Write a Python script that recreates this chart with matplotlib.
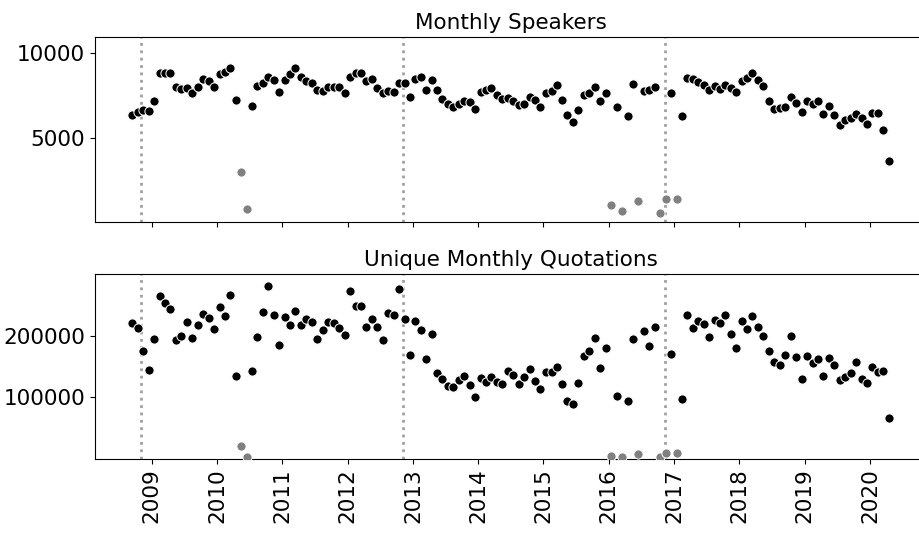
import matplotlib
matplotlib.use("Agg")
import matplotlib.pyplot as plt
import matplotlib.dates as mdates
import pandas as pd
import numpy as np

# Monthly data, Sep 2008 .. Apr 2020 (140 months)
start_month = "2008-09"
n_months = 140

speakers = [
    6330, 6500, 6640, 6560, 7170, 8850, 8850, 8820, 7990, 7890, 7930, 7630,
    7990, 8500, 8380, 8020, 8760, 8870, 9150, 7230, 2970, 790, 6860, 8080,
    8240, 8610, 8400, 7690, 8440, 8760, 9130, 8610, 8360, 8260, 7810, 7770,
    8000, 8000, 8000, 7670, 8600, 8850, 8850, 8380, 8460, 7960, 7650, 7770,
    7730, 8220, 8220, 7430, 8460, 8610, 7830, 8440, 7810, 7280, 7000, 6840,
    7000, 7170, 7120, 6680, 7690, 7830, 7940, 7530, 7280, 7350, 7170, 6940,
    6980, 7430, 7250, 6820, 7630, 7780, 8140, 7250, 6350, 5910, 6640, 7510,
    7630, 7990, 7170, 7650, 1010, 6800, 640, 6270, 8180, 1230, 7780, 7810,
    8000, 560, 1370, 7630, 1370, 6270, 8550, 8500, 8300, 8140, 7830, 8080,
    7890, 8120, 7960, 7730, 8360, 8520, 8830, 8440, 8050, 7190, 6680, 6760,
    6800, 7410, 7070, 6520, 7190, 7010, 7160, 6400, 6900, 6350, 5740, 6050,
    6170, 6420, 6190, 5830, 6480, 6460, 5470, 3600,
]

quotations = [
    220800, 212600, 174400, 144300, 195100, 264600, 254100, 243800, 193000, 199000, 222000, 196200,
    218000, 236100, 229000, 210500, 247500, 232800, 266200, 133400, 19200, 1600, 141600, 198400,
    239300, 282000, 234400, 185200, 230700, 217500, 240000, 217500, 227900, 222500, 194600, 209300,
    222500, 220300, 213100, 201600, 273800, 248200, 248700, 213800, 227900, 214800, 193000, 237700,
    233900, 277000, 227900, 167900, 224600, 208900, 162300, 203300, 138400, 129000, 117500, 116400,
    127400, 134400, 119700, 99000, 130700, 124100, 132800, 124100, 120300, 141600, 135100, 120300,
    132800, 145400, 126200, 113100, 141000, 140500, 149200, 121300, 93400, 87500, 122000, 167200,
    174900, 196200, 147500, 179300, 2800, 101600, 1600, 93000, 194600, 6100, 207700, 182600,
    214800, 700, 7200, 169500, 7200, 95700, 233400, 212100, 224100, 219700, 197400, 225700,
    220300, 234400, 203300, 179800, 224600, 211000, 232800, 214300, 200000, 174900, 156400, 152500,
    168400, 200000, 165100, 129000, 167200, 155700, 162300, 133900, 163900, 151500, 127400, 132800,
    138400, 157400, 129500, 122000, 148200, 141000, 142600, 64600,
]

# months flagged as incomplete (drawn in gray)
outlier_months = ["2010-05", "2010-06", "2016-01", "2016-03", "2016-06",
                  "2016-10", "2016-11", "2017-01"]

# US presidential election days
election_days = ["2008-11-04", "2012-11-06", "2016-11-08"]

titles = ["Monthly Speakers", "Unique Monthly Quotations"]
yticks_top = [5000, 10000]
yticks_bottom = [100000, 200000]
ylim_top = (20, 10950)
ylim_bottom = (-2100, 301000)

months = pd.period_range(start_month, periods=n_months, freq="M")
dates = months.to_timestamp() + pd.Timedelta(days=14)
is_out = np.array([str(m) in outlier_months for m in months])

fs = 15.5
plt.rcParams["font.family"] = ["DejaVu Sans"]
fig = plt.figure(figsize=(9.2, 5.36), dpi=100)
ax1 = fig.add_axes([0.1029, 0.5864, 0.9042, 0.344])
ax2 = fig.add_axes([0.1029, 0.1437, 0.9042, 0.345], sharex=ax1)

for ax, vals, title, yt, yl in [
    (ax1, speakers, titles[0], yticks_top, ylim_top),
    (ax2, quotations, titles[1], yticks_bottom, ylim_bottom),
]:
    v = np.array(vals, dtype=float)
    ax.scatter(dates[~is_out], v[~is_out], s=44, c="black",
               edgecolors="white", linewidths=0.7, zorder=3)
    ax.scatter(dates[is_out], v[is_out], s=44, c="#808080",
               edgecolors="white", linewidths=0.7, zorder=3)
    for d in election_days:
        ax.axvline(pd.Timestamp(d), color="#a0a0a0", linestyle=":",
                   linewidth=2, zorder=1)
    ax.set_title(title, fontsize=fs)
    ax.set_yticks(yt)
    ax.set_ylim(*yl)
    ax.tick_params(axis="both", labelsize=fs)
    ax.spines["right"].set_visible(False)

ax2.xaxis.set_major_locator(mdates.YearLocator())
ax2.xaxis.set_major_formatter(mdates.DateFormatter("%Y"))
plt.setp(ax1.get_xticklabels(), visible=False)
plt.setp(ax2.get_xticklabels(), rotation=90)

fig.savefig("out.png", dpi=100)
